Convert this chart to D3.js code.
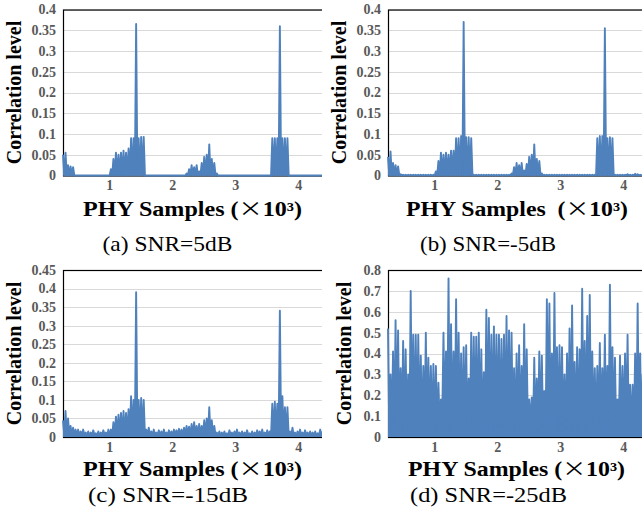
<!DOCTYPE html>
<html>
<head>
<meta charset="utf-8">
<script src="https://cdn.jsdelivr.net/npm/d3@7"></script>
<style>
  body { margin: 0; background: #fff; }
  svg { display: block; }
  .tick-label { font-family: "Liberation Serif", "Times New Roman", serif; font-weight: bold; font-size: 14px; fill: #595959; }
  .axis-title { font-family: "Liberation Serif", "Times New Roman", serif; font-weight: bold; font-size: 20px; fill: #000; }
  .caption { font-family: "Liberation Serif", "Times New Roman", serif; font-size: 21px; fill: #000; }
  .grid line { stroke: #d9d9d9; stroke-width: 1; }
  .signal { fill: none; stroke: #4f81bd; stroke-width: 1.9; stroke-linejoin: round; }
  .signal-fill { fill: #4f81bd; stroke: none; }
</style>
</head>
<body>
<svg id="chart" width="642" height="525"></svg>
<script>
// sample bins: x in thousands of PHY samples, one peak value per bin
var binStart = 0.26;
var binStep = 0.04;
var xTicks = [1, 2, 3, 4];

var snr5Peaks = [
  0.05, 0.055, 0.025, 0.022, 0.02, 0, 0, 0, 0, 0, 0, 0, 0,
  0, 0, 0, 0, 0, 0, 0.015, 0.04, 0.055, 0.05, 0.055, 0.06, 0.055,
  0.065, 0.09, 0.09, 0.365, 0.09, 0.093, 0.093, 0, 0, 0, 0, 0, 0,
  0, 0, 0, 0, 0, 0, 0, 0, 0, 0, 0.005, 0.015, 0.025,
  0.02, 0.025, 0.01, 0.03, 0.045, 0.05, 0.075, 0.04, 0.03, 0.005, 0, 0, 0,
  0, 0, 0, 0, 0, 0, 0, 0, 0, 0, 0, 0, 0,
  0, 0, 0, 0, 0, 0.09, 0.09, 0.09, 0.36, 0.09, 0.09, 0.09, 0,
  0, 0, 0, 0, 0, 0, 0, 0, 0, 0, 0, 0, 0
];

var snrM5Peaks = [
  0.045, 0.058, 0.03, 0.025, 0.022, 0.003, 0.002, 0.002, 0.002, 0.002, 0.002, 0.002, 0.002,
  0.002, 0.002, 0.002, 0.002, 0.002, 0.002, 0.01, 0.035, 0.055, 0.05, 0.055, 0.05, 0.06,
  0.06, 0.09, 0.09, 0.095, 0.37, 0.092, 0.092, 0.09, 0.002, 0.002, 0.002, 0.002, 0.002,
  0.002, 0.002, 0.002, 0.002, 0.002, 0.002, 0.002, 0.002, 0.002, 0.002, 0.005, 0.02, 0.03,
  0.025, 0.03, 0.012, 0.028, 0.045, 0.05, 0.075, 0.04, 0.035, 0.005, 0.002, 0.002, 0.002,
  0.002, 0.002, 0.002, 0.002, 0.002, 0.002, 0.002, 0.002, 0.002, 0.002, 0.002, 0.002, 0.002,
  0.002, 0.002, 0.002, 0.002, 0.002, 0.09, 0.095, 0.095, 0.355, 0.09, 0.092, 0.09, 0.002,
  0.002, 0.002, 0.002, 0.002, 0.003, 0.002, 0.002, 0.004, 0.003, 0.002, 0.002, 0.003, 0.002
];

var snrM15Peaks = [
  0.045, 0.07, 0.05, 0.03, 0.025, 0.02, 0.02, 0.015, 0.02, 0.012, 0.015, 0.012, 0.018,
  0.01, 0.015, 0.012, 0.018, 0.012, 0.02, 0.02, 0.04, 0.055, 0.06, 0.065, 0.07, 0.065,
  0.075, 0.11, 0.1, 0.39, 0.1, 0.105, 0.1, 0.02, 0.025, 0.015, 0.02, 0.012, 0.018,
  0.015, 0.02, 0.012, 0.018, 0.015, 0.02, 0.018, 0.022, 0.02, 0.025, 0.03, 0.028, 0.035,
  0.04, 0.03, 0.035, 0.03, 0.045, 0.05, 0.08, 0.045, 0.03, 0.012, 0.015, 0.012, 0.015,
  0.01, 0.018, 0.012, 0.015, 0.02, 0.012, 0.015, 0.012, 0.018, 0.01, 0.015, 0.012, 0.018,
  0.015, 0.02, 0.012, 0.018, 0.015, 0.09, 0.095, 0.09, 0.34, 0.11, 0.08, 0.08, 0.015,
  0.025, 0.012, 0.015, 0.02, 0.012, 0.018, 0.012, 0.015, 0.012, 0.015, 0.01, 0.02, 0.015
];

var snrM25Peaks = [
  0.52, 0.30, 0.41, 0.56, 0.51, 0.33, 0.46, 0.42, 0.30, 0.70, 0.49, 0.49, 0.49,
  0.39, 0.34, 0.50, 0.38, 0.34, 0.35, 0.34, 0.26, 0.18, 0.50, 0.41, 0.76, 0.54,
  0.41, 0.66, 0.50, 0.40, 0.43, 0.44, 0.28, 0.50, 0.48, 0.48, 0.50, 0.42, 0.31,
  0.61, 0.57, 0.49, 0.53, 0.49, 0.49, 0.47, 0.49, 0.58, 0.51, 0.50, 0.33, 0.40,
  0.44, 0.34, 0.54, 0.42, 0.18, 0.19, 0.38, 0.28, 0.41, 0.39, 0.22, 0.66, 0.64,
  0.40, 0.69, 0.43, 0.44, 0.43, 0.30, 0.40, 0.52, 0.63, 0.36, 0.43, 0.42, 0.71,
  0.46, 0.58, 0.68, 0.41, 0.33, 0.34, 0.45, 0.33, 0.49, 0.34, 0.73, 0.43, 0.38,
  0.18, 0.39, 0.34, 0.40, 0.49, 0.25, 0.25, 0.40, 0.64, 0.40, 0.30, 0.35, 0.30
];

// troughs between the peaks (a constant floor where the signal sits flat)
var snr5Floor = 0;
var snrM5Floor = 0;
var snrM15Floor = 0.004;
var snrM25Troughs = [
  0.02, 0.05, 0.01, 0.03, 0.02, 0.04, 0.01, 0.03, 0.02, 0.01, 0.04, 0.02, 0.03,
  0.01, 0.03, 0.02, 0.04, 0.01, 0.03, 0.02, 0.05, 0.08, 0.07, 0.06, 0.03, 0.02,
  0.04, 0.01, 0.03, 0.02, 0.04, 0.01, 0.03, 0.02, 0.05, 0.01, 0.03, 0.02, 0.04,
  0.01, 0.02, 0.03, 0.01, 0.04, 0.02, 0.03, 0.01, 0.02, 0.04, 0.02, 0.01, 0.03,
  0.02, 0.04, 0.01, 0.03, 0.05, 0.02, 0.01, 0.03, 0.02, 0.04, 0.01, 0.03, 0.02,
  0.01, 0.04, 0.02, 0.03, 0.01, 0.02, 0.04, 0.01, 0.03, 0.02, 0.01, 0.04, 0.02,
  0.03, 0.01, 0.02, 0.04, 0.01, 0.03, 0.02, 0.05, 0.01, 0.03, 0.02, 0.04, 0.01,
  0.03, 0.02, 0.01, 0.04, 0.02, 0.03, 0.01, 0.02, 0.04, 0.01, 0.03, 0.02, 0.03
];

var yMaxes = [0.4, 0.4, 0.45, 0.8];
var yTickSteps = [0.05, 0.05, 0.05, 0.1];
var captions = ["(a)  SNR=5dB", "(b)  SNR=-5dB", "(c)  SNR=-15dB", "(d)  SNR=-25dB"];

var panels = [
  { peaks: snr5Peaks, troughs: snr5Floor, left: 63, top: 9.5, bottom: 175.5, clipRight: 322,
    xTitle: { x: 192.5, y: 216, len: 219, gap: " " }, yTitleX: 21, capX: 167.5, capY: 251, capLen: 130 },
  { peaks: snrM5Peaks, troughs: snrM5Floor, left: 388, top: 9.5, bottom: 175.5, clipRight: 642,
    xTitle: { x: 517, y: 216, len: 222, gap: "\u00a0 " }, yTitleX: 346, capX: 488, capY: 251, capLen: 136 },
  { peaks: snrM15Peaks, troughs: snrM15Floor, left: 63, top: 270, bottom: 437, clipRight: 322,
    xTitle: { x: 192.5, y: 476, len: 219, gap: " " }, yTitleX: 21, capX: 168, capY: 502, capLen: 160 },
  { peaks: snrM25Peaks, troughs: snrM25Troughs, left: 388, top: 270, bottom: 437, clipRight: 642,
    xTitle: { x: 516.5, y: 476, len: 217, gap: " " }, yTitleX: 351, capX: 488.5, capY: 502, capLen: 157 }
];

var svg = d3.select("#chart");
var plotWidth = 261;

panels.forEach(function (p, k) {
  var x = d3.scaleLinear()
      .domain([binStart, 4.40])
      .range([p.left, p.left + plotWidth]);
  var y = d3.scaleLinear()
      .domain([0, yMaxes[k]])
      .range([p.bottom, p.top]);

  var clipId = "clip" + k;
  svg.append("clipPath")
      .attr("id", clipId)
    .append("rect")
      .attr("x", p.left - 1)
      .attr("y", p.top - 2)
      .attr("width", p.clipRight - p.left + 1)
      .attr("height", p.bottom - p.top + 6);

  var g = svg.append("g");
  var plot = g.append("g").attr("clip-path", "url(#" + clipId + ")");

  var yTicks = d3.range(0, yMaxes[k] + 1e-9, yTickSteps[k]);

  plot.append("g")
      .attr("class", "grid")
    .selectAll("line")
    .data(yTicks.slice(1))
    .enter().append("line")
      .attr("x1", p.left)
      .attr("x2", p.left + plotWidth)
      .attr("y1", function (d) { return Math.round(y(d)) + 0.5; })
      .attr("y2", function (d) { return Math.round(y(d)) + 0.5; });

  plot.append("rect")
      .attr("x", p.left + 0.5)
      .attr("y", p.top + 0.5)
      .attr("width", plotWidth)
      .attr("height", p.bottom - p.top)
      .attr("fill", "none")
      .attr("stroke", "#000")
      .attr("stroke-width", 1.2);

  // alternate peak and trough: the dense signal reads as a filled band
  var points = [];
  p.peaks.forEach(function (v, i) {
    var xv = binStart + i * binStep;
    var lo = Array.isArray(p.troughs) ? p.troughs[i] : p.troughs;
    points.push([xv, v]);
    points.push([xv + binStep / 2, Math.min(lo, v)]);
  });

  var area = d3.area()
      .x(function (d) { return x(d[0]); })
      .y0(y(0))
      .y1(function (d) { return y(d[1]); });

  var line = d3.line()
      .x(function (d) { return x(d[0]); })
      .y(function (d) { return y(d[1]); });

  plot.append("path")
      .datum(points)
      .attr("class", "signal-fill")
      .attr("d", area);

  plot.append("path")
      .datum(points)
      .attr("class", "signal")
      .attr("d", line);

  g.selectAll("text.ytick")
    .data(yTicks)
    .enter().append("text")
      .attr("class", "tick-label ytick")
      .attr("x", p.left - 7)
      .attr("y", function (d) { return y(d); })
      .attr("dy", "0.35em")
      .attr("text-anchor", "end")
      .text(function (d) { return String(+d.toFixed(2)); });

  g.selectAll("text.xtick")
    .data(xTicks)
    .enter().append("text")
      .attr("class", "tick-label xtick")
      .attr("x", function (d) { return x(d); })
      .attr("y", p.bottom + 14.5)
      .attr("text-anchor", "middle")
      .text(function (d) { return d; });

  var xt = g.append("text")
      .attr("class", "axis-title")
      .attr("x", p.xTitle.x)
      .attr("y", p.xTitle.y)
      .attr("text-anchor", "middle")
      .attr("textLength", p.xTitle.len)
      .attr("lengthAdjust", "spacingAndGlyphs");
  xt.append("tspan").text("PHY Samples" + p.xTitle.gap + "(");
  xt.append("tspan").style("font-family", "'Noto Sans CJK SC'").style("font-weight", "normal").text("\u00d7");
  xt.append("tspan").text("10\u00b3)");

  g.append("text")
      .attr("class", "axis-title")
      .attr("transform", "translate(" + p.yTitleX + "," + ((p.top + p.bottom) / 2) + ")rotate(-90)")
      .attr("text-anchor", "middle")
      .text("Correlation level");

  g.append("text")
      .attr("class", "caption")
      .attr("x", p.capX)
      .attr("y", p.capY)
      .attr("text-anchor", "middle")
      .attr("textLength", p.capLen)
      .attr("lengthAdjust", "spacingAndGlyphs")
      .text(captions[k]);
});
</script>
</body>
</html>
